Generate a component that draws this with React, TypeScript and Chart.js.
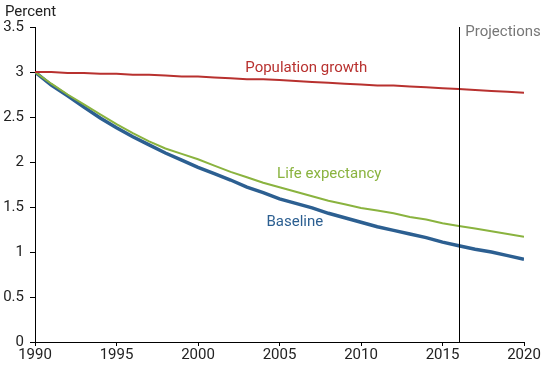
import React, { useEffect, useRef } from "react";
import { Chart, registerables } from "chart.js";

Chart.register(...registerables);

const years = [
  1990, 1991, 1992, 1993, 1994, 1995, 1996, 1997, 1998, 1999, 2000, 2001, 2002, 2003, 2004, 2005,
  2006, 2007, 2008, 2009, 2010, 2011, 2012, 2013, 2014, 2015, 2016, 2017, 2018, 2019, 2020,
];
const populationGrowth = [
  3.0, 3.0, 2.99, 2.99, 2.98, 2.98, 2.97, 2.97, 2.96, 2.95, 2.95, 2.94, 2.93, 2.92, 2.92, 2.91,
  2.9, 2.89, 2.88, 2.87, 2.86, 2.85, 2.85, 2.84, 2.83, 2.82, 2.81, 2.8, 2.79, 2.78, 2.77,
];
const lifeExpectancy = [
  3.0, 2.87, 2.75, 2.64, 2.53, 2.42, 2.32, 2.23, 2.15, 2.09, 2.03, 1.96, 1.89, 1.83, 1.77, 1.72,
  1.67, 1.62, 1.57, 1.53, 1.49, 1.46, 1.43, 1.39, 1.36, 1.32, 1.29, 1.26, 1.23, 1.2, 1.17,
];
const baseline = [
  3.0, 2.855, 2.735, 2.61, 2.49, 2.38, 2.28, 2.19, 2.1, 2.02, 1.94, 1.87, 1.8, 1.72, 1.66, 1.59,
  1.54, 1.49, 1.43, 1.38, 1.33, 1.28, 1.24, 1.2, 1.16, 1.11, 1.07, 1.03, 1.0, 0.96, 0.92,
];
const projectionStart = 2016;

const labels = [
  { text: "Population growth", x: 2002.9, y: 3.0, color: "#b8312f" },
  { text: "Life expectancy", x: 2004.85, y: 1.822, color: "#8ab33f" },
  { text: "Baseline", x: 2004.2, y: 1.294, color: "#2c5f91" },
  { text: "Projections", x: 2016.4, y: 3.4, color: "#777777" },
];

const FONT = "Roboto, 'Noto Sans', sans-serif";

const annotPlugin = {
  id: "annot",
  afterDatasetsDraw(chart: any) {
    const { ctx, chartArea, scales } = chart;
    const xs = scales.x;
    const ys = scales.y;
    ctx.save();
    const px = Math.round(xs.getPixelForValue(projectionStart)) + 0.5;
    ctx.strokeStyle = "#000";
    ctx.lineWidth = 1;
    ctx.beginPath();
    ctx.moveTo(px, chartArea.top);
    ctx.lineTo(px, chartArea.bottom);
    ctx.stroke();
    ctx.font = `15px ${FONT}`;
    ctx.textAlign = "left";
    ctx.textBaseline = "alphabetic";
    for (const l of labels) {
      ctx.fillStyle = l.color;
      ctx.fillText(l.text, xs.getPixelForValue(l.x), ys.getPixelForValue(l.y));
    }
    ctx.fillStyle = "#222";
    ctx.fillText("Percent", 5, 16);
    ctx.restore();
  },
};

export default function App() {
  const ref = useRef<HTMLCanvasElement>(null);
  useEffect(() => {
    if (!ref.current) return;
    const mk = (data: number[]) => years.map((y, i) => ({ x: y, y: data[i] }));
    const chart = new Chart(ref.current, {
      type: "line",
      data: {
        datasets: [
          { label: "Population growth", data: mk(populationGrowth), borderColor: "#b8312f", borderWidth: 2, pointRadius: 0, tension: 0 },
          { label: "Life expectancy", data: mk(lifeExpectancy), borderColor: "#8ab33f", borderWidth: 2, pointRadius: 0, tension: 0 },
          { label: "Baseline", data: mk(baseline), borderColor: "#2c5f91", borderWidth: 3.5, pointRadius: 0, tension: 0 },
        ],
      },
      options: {
        animation: false,
        responsive: false,
        maintainAspectRatio: false,
        devicePixelRatio: 1,
        layout: { padding: { top: 27, right: 26, left: 0, bottom: 0 } },
        plugins: { legend: { display: false }, tooltip: { enabled: false } },
        scales: {
          x: {
            type: "linear",
            min: 1990,
            max: 2020,
            ticks: {
              stepSize: 5,
              color: "#222",
              font: { family: FONT, size: 15 },
              padding: 0,
              maxRotation: 0,
              callback: (v: any) => String(v),
            },
            grid: { drawOnChartArea: false, tickLength: 4, color: "#000" },
            border: { color: "#000", width: 1 },
            afterFit: (s: any) => { s.height = 23; },
          },
          y: {
            min: 0,
            max: 3.5,
            ticks: {
              stepSize: 0.5,
              color: "#222",
              font: { family: FONT, size: 15 },
              padding: 6,
              callback: (v: any) => String(v),
            },
            grid: { drawOnChartArea: false, tickLength: 5, color: "#000" },
            border: { color: "#000", width: 1 },
            afterFit: (s: any) => { s.width = 35; },
          },
        },
      },
      plugins: [annotPlugin],
    } as any);
    return () => chart.destroy();
  }, []);
  return (
    <div style={{ position: "fixed", left: 0, top: 0, width: 550, height: 365, background: "#fff" }}>
      <canvas ref={ref} width={550} height={365} style={{ width: 550, height: 365 }} />
    </div>
  );
}
